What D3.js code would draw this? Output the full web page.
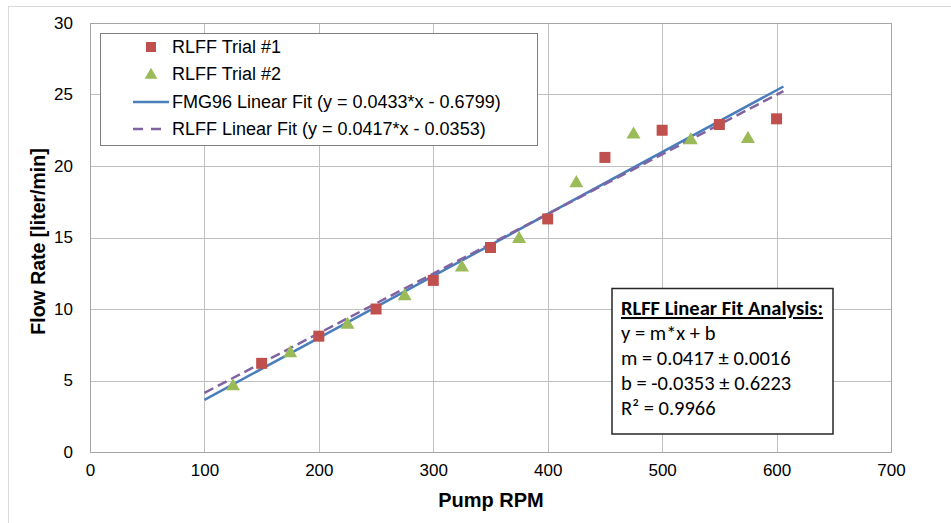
<!DOCTYPE html>
<html>
<head>
<meta charset="utf-8">
<script src="https://cdn.jsdelivr.net/npm/d3@7"></script>
<style>
  body { margin: 0; background: #fff; }
  svg { display: block; }
</style>
</head>
<body>
<svg id="chart" width="951" height="523"></svg>
<script>
// ---- Data ----
const trial1X = [150, 200, 250, 300, 350, 400, 450, 500, 550, 600];
const trial1Y = [6.2, 8.1, 10.0, 12.0, 14.3, 16.3, 20.6, 22.5, 22.9, 23.3];
const trial2X = [125, 175, 225, 275, 325, 375, 425, 475, 525, 575];
const trial2Y = [4.6, 6.9, 8.9, 10.9, 12.9, 14.9, 18.8, 22.2, 21.8, 21.9];
const fitXRange = [100, 606];
const fmgSlope = 0.0433, fmgIntercept = -0.6799;
const rlffSlope = 0.0417, rlffIntercept = -0.0353;
const xTicks = [0, 100, 200, 300, 400, 500, 600, 700];
const yTicks = [0, 5, 10, 15, 20, 25, 30];
const legendLabels = ["RLFF Trial #1", "RLFF Trial #2",
  "FMG96 Linear Fit (y = 0.0433*x - 0.6799)",
  "RLFF Linear Fit (y = 0.0417*x - 0.0353)"];
const analysisTitle = "RLFF Linear Fit Analysis:";
const analysisLines = ["y = m*x + b", "m = 0.0417 \u00b1 0.0016", "b = -0.0353 \u00b1 0.6223", "R\u00b2 = 0.9966"];

const colRed = "#c0504d", colGreen = "#9bbb59", colBlue = "#4a7ebb", colPurple = "#8064a2";
const font = "'Liberation Sans', Arial, sans-serif";

const svg = d3.select("#chart");
// outer frame
svg.append("rect").attr("x", 8.5).attr("y", 6.5).attr("width", 960).attr("height", 540)
  .attr("fill", "#fff").attr("stroke", "#d9d9d9").attr("stroke-width", 1);

const pL = 90, pR = 891, pT = 23, pB = 452;
const x = d3.scaleLinear().domain([0, 700]).range([pL, pR]);
const y = d3.scaleLinear().domain([0, 30]).range([pB, pT]);

// gridlines
const g = svg.append("g");
g.selectAll(".hg").data(yTicks).join("line")
  .attr("x1", pL).attr("x2", pR)
  .attr("y1", d => Math.round(y(d)) + 0.5).attr("y2", d => Math.round(y(d)) + 0.5)
  .attr("stroke", "#bfbfbf").attr("stroke-width", 1);
g.selectAll(".vg").data(xTicks).join("line")
  .attr("y1", pT).attr("y2", pB)
  .attr("x1", d => Math.round(x(d)) + 0.5).attr("x2", d => Math.round(x(d)) + 0.5)
  .attr("stroke", "#bfbfbf").attr("stroke-width", 1);
// plot border
svg.append("rect").attr("x", pL + 0.5).attr("y", pT + 0.5)
  .attr("width", pR - pL).attr("height", pB - pT)
  .attr("fill", "none").attr("stroke", "#a6a6a6");

// axes (labels only)
const xAxis = svg.append("g").attr("transform", `translate(0,${pB})`)
  .call(d3.axisBottom(x).tickValues(xTicks).tickSize(0).tickPadding(12));
xAxis.select(".domain").attr("stroke", "#a6a6a6");
xAxis.selectAll("text").attr("font-family", font).attr("font-size", 17).attr("fill", "#000");
const yAxis = svg.append("g").attr("transform", `translate(${pL},0)`)
  .call(d3.axisLeft(y).tickValues(yTicks).tickSize(0).tickPadding(17));
yAxis.select(".domain").attr("stroke", "#a6a6a6");
yAxis.selectAll("text").attr("font-family", font).attr("font-size", 17).attr("fill", "#000");

// axis titles
svg.append("text").attr("x", 491).attr("y", 507).attr("text-anchor", "middle")
  .attr("font-family", font).attr("font-size", 20).attr("font-weight", "bold").text("Pump RPM");
svg.append("text").attr("transform", `translate(45,${(pT + pB) / 2 + 4}) rotate(-90)`)
  .attr("text-anchor", "middle").attr("font-family", font).attr("font-size", 19.5)
  .attr("font-weight", "bold").text("Flow Rate [liter/min]");

// fit lines
const fitLine = d3.line().x(d => x(d[0])).y(d => y(d[1]));
svg.append("path").datum(fitXRange.map(v => [v, fmgSlope * v + fmgIntercept]))
  .attr("d", fitLine).attr("stroke", colBlue).attr("stroke-width", 2.5).attr("fill", "none");
svg.append("path").datum(fitXRange.map(v => [v, rlffSlope * v + rlffIntercept]))
  .attr("d", fitLine).attr("stroke", colPurple).attr("stroke-width", 2.5)
  .attr("stroke-dasharray", "10,5").attr("fill", "none");

// markers
const sq = 11;
svg.selectAll(".t1").data(trial1X.map((v, i) => [v, trial1Y[i]])).join("rect")
  .attr("x", d => x(d[0]) - sq / 2).attr("y", d => y(d[1]) - sq / 2)
  .attr("width", sq).attr("height", sq).attr("fill", colRed);
const tri = d3.symbol().type(d3.symbolTriangle).size(85);
svg.selectAll(".t2").data(trial2X.map((v, i) => [v, trial2Y[i]])).join("path")
  .attr("d", tri).attr("transform", d => `translate(${x(d[0])},${y(d[1])})`)
  .attr("fill", colGreen);

// legend
const lg = svg.append("g");
lg.append("rect").attr("x", 100.5).attr("y", 33.5).attr("width", 437).attr("height", 112)
  .attr("fill", "#fff").attr("stroke", "#7f7f7f").attr("stroke-width", 1);
const ly = [47, 74, 102, 129];
lg.append("rect").attr("x", 151 - 5).attr("y", ly[0] - 5).attr("width", 10).attr("height", 10).attr("fill", colRed);
lg.append("path").attr("d", d3.symbol().type(d3.symbolTriangle).size(70)).attr("transform", `translate(151,${ly[1] + 1})`).attr("fill", colGreen);
lg.append("line").attr("x1", 133).attr("x2", 169).attr("y1", ly[2]).attr("y2", ly[2])
  .attr("stroke", colBlue).attr("stroke-width", 2.5);
lg.append("line").attr("x1", 133).attr("x2", 169).attr("y1", ly[3]).attr("y2", ly[3])
  .attr("stroke", colPurple).attr("stroke-width", 2.5).attr("stroke-dasharray", "10,8");
lg.selectAll(".lt").data(legendLabels).join("text")
  .attr("x", 172).attr("y", (d, i) => ly[i]).attr("dy", "0.36em")
  .attr("font-family", font).attr("font-size", 18).attr("fill", "#000").text(d => d);

// analysis box
const ab = svg.append("g");
ab.append("rect").attr("x", 612).attr("y", 288.5).attr("width", 221).attr("height", 145.5)
  .attr("fill", "#fff").attr("stroke", "#262626").attr("stroke-width", 1.5);
const cal = "Carlito, Calibri, Lato, 'Liberation Sans', sans-serif";
ab.append("text").attr("x", 621).attr("y", 315).attr("font-family", cal).attr("font-size", 20.5)
  .attr("font-weight", "bold").attr("text-decoration", "underline").text(analysisTitle);
ab.selectAll(".al").data(analysisLines).join("text")
  .attr("x", 621).attr("y", (d, i) => 340 + i * 25)
  .attr("font-family", cal).attr("font-size", 20.5).text(d => d);
</script>
</body>
</html>
